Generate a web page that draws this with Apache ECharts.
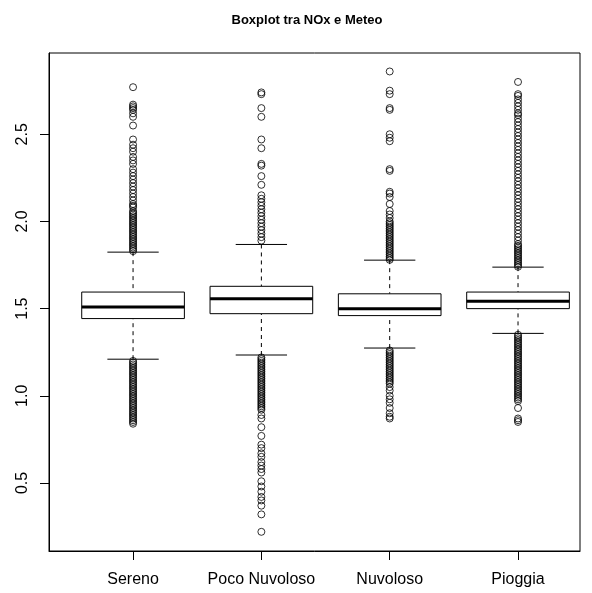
<!DOCTYPE html>
<html>
<head>
<meta charset="utf-8">
<script src="https://cdn.jsdelivr.net/npm/echarts@6/dist/echarts.min.js"></script>
<style>html,body{margin:0;padding:0;background:#fff;}#c{width:592px;height:593px;}</style>
</head>
<body>
<div id="c"></div>
<script>
const categories = ['Sereno', 'Poco Nuvoloso', 'Nuvoloso', 'Pioggia'];
const lowerWhisker = [1.21, 1.234, 1.274, 1.358];
const q1 = [1.443, 1.471, 1.46, 1.50];
const median = [1.51, 1.557, 1.50, 1.542];
const q3 = [1.595, 1.628, 1.585, 1.595];
const upperWhisker = [1.824, 1.868, 1.778, 1.738];
const yTicks = [0.5, 1.0, 1.5, 2.0, 2.5];

const outSereno = [2.77, 2.67, 2.66, 2.65, 2.64, 2.62, 2.60, 2.55, 2.47, 2.44, 2.42, 2.40, 2.37, 2.35, 2.33, 2.30, 2.28, 2.26, 2.24, 2.22, 2.20, 2.18, 2.16, 2.14, 2.12, 2.10, 2.09, 2.08, 2.06, 2.05, 2.04, 2.03, 2.02, 2.01, 2.00, 1.99, 1.98, 1.97, 1.96, 1.95, 1.94, 1.93, 1.92, 1.91, 1.90, 1.89, 1.88, 1.87, 1.86, 1.85, 1.84, 1.83,
  1.20, 1.19, 1.18, 1.17, 1.16, 1.15, 1.14, 1.13, 1.12, 1.11, 1.10, 1.09, 1.08, 1.07, 1.06, 1.05, 1.04, 1.03, 1.02, 1.01, 1.00, 0.99, 0.98, 0.97, 0.96, 0.95, 0.94, 0.93, 0.92, 0.91, 0.90, 0.89, 0.88, 0.87, 0.86, 0.85, 0.84];
const outPoco = [2.74, 2.73, 2.65, 2.60, 2.47, 2.42, 2.33, 2.32, 2.26, 2.21, 2.15, 2.13, 2.11, 2.09, 2.07, 2.05, 2.03, 2.01, 1.99, 1.97, 1.95, 1.93, 1.91, 1.89,
  1.22, 1.21, 1.20, 1.19, 1.18, 1.17, 1.16, 1.15, 1.14, 1.13, 1.12, 1.11, 1.10, 1.09, 1.08, 1.07, 1.06, 1.05, 1.04, 1.03, 1.02, 1.01, 1.00, 0.99, 0.98, 0.97, 0.96, 0.95, 0.94, 0.93, 0.92,
  0.89, 0.87, 0.82, 0.77, 0.72, 0.70, 0.67, 0.65, 0.62, 0.60, 0.58, 0.56, 0.51, 0.48, 0.45, 0.42, 0.40, 0.37, 0.32, 0.22];
const outNuvoloso = [2.86, 2.75, 2.73, 2.65, 2.64, 2.50, 2.48, 2.46, 2.30, 2.29, 2.17, 2.16, 2.14, 2.10, 2.06, 2.04, 2.02, 2.00, 1.99, 1.98, 1.97, 1.96, 1.95, 1.94, 1.93, 1.92, 1.91, 1.90, 1.89, 1.88, 1.87, 1.86, 1.85, 1.84, 1.83, 1.82, 1.81, 1.80, 1.79, 1.78,
  1.26, 1.25, 1.24, 1.23, 1.22, 1.21, 1.20, 1.19, 1.18, 1.17, 1.16, 1.15, 1.14, 1.13, 1.12, 1.11, 1.10, 1.09, 1.08, 1.07, 1.05, 1.03, 1.00, 0.98, 0.96, 0.93, 0.90, 0.88, 0.87];
const outPioggia = [2.80, 2.73, 2.72, 2.70, 2.68, 2.66, 2.64, 2.62, 2.61, 2.59, 2.57, 2.55, 2.53, 2.51, 2.49, 2.47, 2.45, 2.43, 2.41, 2.39, 2.37, 2.35, 2.33, 2.31, 2.29, 2.27, 2.25, 2.23, 2.21, 2.19, 2.17, 2.15, 2.13, 2.11, 2.09, 2.07, 2.05, 2.03, 2.01, 1.99, 1.97, 1.95, 1.93, 1.91, 1.89, 1.87, 1.86, 1.85, 1.84, 1.83, 1.82, 1.81, 1.80, 1.79, 1.78, 1.77, 1.76, 1.75, 1.74,
  1.35, 1.34, 1.33, 1.32, 1.31, 1.30, 1.29, 1.28, 1.27, 1.26, 1.25, 1.24, 1.23, 1.22, 1.21, 1.20, 1.19, 1.18, 1.17, 1.16, 1.15, 1.14, 1.13, 1.12, 1.11, 1.10, 1.09, 1.08, 1.07, 1.06, 1.05, 1.04, 1.03, 1.02, 1.01, 1.00, 0.99, 0.98, 0.97, 0.93, 0.87, 0.86, 0.85];
const outliers = [outSereno, outPoco, outNuvoloso, outPioggia];

const boxData = categories.map((c, i) => [i + 1, lowerWhisker[i], q1[i], median[i], q3[i], upperWhisker[i]]);
const outlierData = [];
outliers.forEach((arr, i) => arr.forEach(v => outlierData.push([i + 1, v])));

const chart = echarts.init(document.getElementById('c'), null, {renderer: 'canvas'});
const font = 'Liberation Sans, Arial, Helvetica, sans-serif';

function renderBox(params, api) {
  const x = api.value(0);
  const lo = api.value(1), a = api.value(2), m = api.value(3), b = api.value(4), hi = api.value(5);
  const half = 0.4, cap = 0.2;
  const pL = api.coord([x - half, a]), pR = api.coord([x + half, b]);
  const pM1 = api.coord([x - half, m]), pM2 = api.coord([x + half, m]);
  const pLo = api.coord([x, lo]), pHi = api.coord([x, hi]);
  const pA = api.coord([x, a]), pB = api.coord([x, b]);
  const cL1 = api.coord([x - cap, lo]), cL2 = api.coord([x + cap, lo]);
  const cH1 = api.coord([x - cap, hi]), cH2 = api.coord([x + cap, hi]);
  const st = {stroke: '#000', lineWidth: 1, fill: null};
  const dash = {stroke: '#000', lineWidth: 1, lineDash: [4, 4], fill: null};
  return {
    type: 'group',
    children: [
      {type: 'line', shape: {x1: pHi[0], y1: pHi[1], x2: pB[0], y2: pB[1]}, style: dash},
      {type: 'line', shape: {x1: pLo[0], y1: pLo[1], x2: pA[0], y2: pA[1]}, style: dash},
      {type: 'line', shape: {x1: cH1[0], y1: cH1[1], x2: cH2[0], y2: cH2[1]}, style: st},
      {type: 'line', shape: {x1: cL1[0], y1: cL1[1], x2: cL2[0], y2: cL2[1]}, style: st},
      {type: 'rect', shape: {x: pL[0], y: pR[1], width: pR[0] - pL[0], height: pL[1] - pR[1]}, style: {stroke: '#000', lineWidth: 1, fill: '#fff'}},
      {type: 'line', shape: {x1: pM1[0], y1: pM1[1], x2: pM2[0], y2: pM2[1]}, style: {stroke: '#000', lineWidth: 3}}
    ]
  };
}

chart.setOption({
  animation: false,
  backgroundColor: '#fff',
  title: {
    text: 'Boxplot tra NOx e Meteo',
    left: 302, top: 9, textAlign: 'center',
    textStyle: {fontFamily: font, fontWeight: 'bold', fontSize: 13, color: '#000'}
  },
  grid: {left: 49, right: 12, top: 53, bottom: 42, show: true, borderColor: '#000', borderWidth: 1, backgroundColor: 'transparent'},
  xAxis: {
    type: 'value', min: 0.345, max: 4.483,
    splitLine: {show: false},
    axisLine: {show: true, lineStyle: {color: '#000'}},
    axisTick: {show: true, length: 9, lineStyle: {color: '#000'}, customValues: [1, 2, 3, 4]},
    axisLabel: {
      customValues: [1, 2, 3, 4], margin: 21,
      formatter: v => categories[Math.round(v) - 1] || '',
      fontFamily: font, fontSize: 16, color: '#000'
    }
  },
  yAxis: {
    type: 'value', min: 0.11, max: 2.966,
    splitLine: {show: false},
    axisLine: {show: true, lineStyle: {color: '#000'}},
    axisTick: {show: true, length: 9, lineStyle: {color: '#000'}, customValues: yTicks},
    axisLabel: {
      customValues: yTicks, rotate: 90, margin: 18,
      formatter: v => Number(v).toFixed(1),
      fontFamily: font, fontSize: 16, color: '#000'
    }
  },
  series: [
    {type: 'custom', renderItem: renderBox, data: boxData, z: 2, encode: {x: 0, y: [1, 5]}, silent: true},
    {type: 'scatter', data: outlierData, z: 3, symbol: 'circle', symbolSize: 7,
     itemStyle: {color: 'transparent', borderColor: '#000', borderWidth: 1}, silent: true}
  ]
});
</script>
</body>
</html>
